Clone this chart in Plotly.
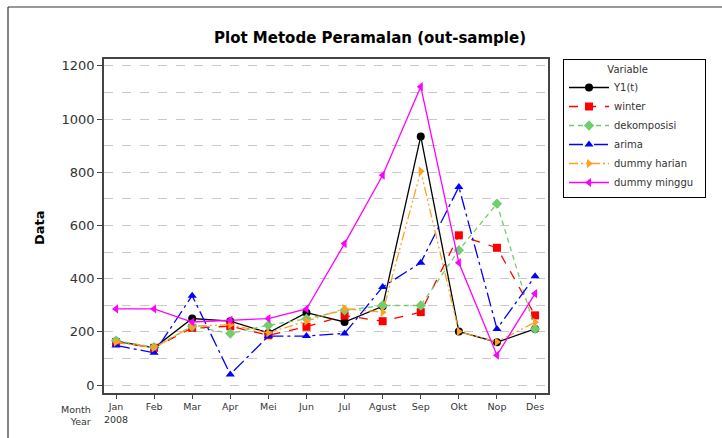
import plotly.graph_objects as go

months = ["Jan<br>2008", "Feb", "Mar", "Apr", "Mei", "Jun", "Jul", "Agust", "Sep", "Okt", "Nop", "Des"]
y1 = [165, 140, 250, 240, 196, 272, 237, 296, 935, 201, 161, 211]
winter = [161, 140, 215, 221, 187, 219, 261, 240, 274, 563, 516, 262]
dekomposisi = [167, 142, 221, 194, 225, 249, 281, 299, 299, 507, 682, 211]
arima = [149, 121, 336, 40, 184, 184, 194, 369, 460, 745, 211, 409]
dummy_harian = [161, 140, 221, 227, 196, 240, 287, 274, 804, 201, 162, 236]
dummy_minggu = [286, 286, 237, 244, 250, 286, 532, 789, 1122, 460, 112, 344]

series = [
    ("Y1(t)", y1, "black", "solid", "circle"),
    ("winter", winter, "#ff0000", "dash", "square"),
    ("dekomposisi", dekomposisi, "#6fcf6f", "5px,4px", "diamond"),
    ("arima", arima, "#0000ff", "14px,4px,3px,4px", "triangle-up"),
    ("dummy harian", dummy_harian, "#ffa020", "9px,3px,2px,3px,2px,3px", "triangle-right"),
    ("dummy minggu", dummy_minggu, "#ff00ff", "solid", "triangle-left"),
]

x = list(range(len(months)))
fig = go.Figure()
for name, vals, color, dash, sym in series:
    fig.add_trace(go.Scatter(
        x=x, y=vals, name=name + "&nbsp;&nbsp;", mode="lines+markers",
        line=dict(color=color, width=1.3, dash=dash),
        marker=dict(symbol=sym, size=8, color=color),
    ))

W, H = 722, 438
L, R, T, B = 104, 174, 59, 45
pw, ph = W - L - R, H - T - B

def px(xp):
    return (xp - L) / pw

def py(yp):
    return (H - B - yp) / ph

fig.update_layout(
    width=W, height=H,
    margin=dict(l=L, r=R, t=T, b=B),
    paper_bgcolor="white", plot_bgcolor="white",
    font=dict(family="DejaVu Sans", color="#222"),
    title=dict(text="<b>Plot Metode Peramalan (out-sample)</b>", xref="container", x=370 / W,
               xanchor="center", yref="container", y=1 - 38 / H, yanchor="middle",
               font=dict(size=15, color="black")),
    showlegend=True,
    legend=dict(
        title=dict(text="&nbsp;" * 13 + "Variable", font=dict(size=10)),
        x=px(563), xanchor="left", y=1, yanchor="top",
        bordercolor="black", borderwidth=1, bgcolor="white",
        font=dict(size=10, color="#333"), tracegroupgap=0, itemwidth=40,
    ),
    xaxis=dict(
        range=[-0.315, 11.34], tickvals=x, ticktext=months,
        showgrid=False, zeroline=False, showline=True, linecolor="#444", linewidth=1.5,
        mirror=True, ticks="outside", ticklen=4, tickcolor="#444",
        tickfont=dict(size=9.5, color="#333"),
    ),
    yaxis=dict(
        range=[-30, 1226], tickvals=[0, 200, 400, 600, 800, 1000, 1200],
        showgrid=True, gridcolor="#c8c8c8", griddash="dash", gridwidth=1,
        minor=dict(tickvals=[100, 300, 500, 700, 900, 1100], showgrid=True,
                   gridcolor="#c8c8c8", griddash="dash", gridwidth=1, ticks=""),
        zeroline=False, showline=True, linecolor="#444", linewidth=1.5, mirror=True,
        ticks="outside", ticklen=5, tickcolor="#444",
        tickfont=dict(size=13, color="#333"),
    ),
    annotations=[
        dict(text="<b>Data</b>", x=px(40), y=py(228), xref="paper", yref="paper",
             textangle=-90, showarrow=False, font=dict(size=13, color="black"),
             xanchor="center", yanchor="middle"),
        dict(text="Month<br>Year", x=px(93), y=py(402), xref="paper", yref="paper",
             showarrow=False, align="right", xanchor="right", yanchor="top",
             font=dict(size=9.5, color="#333")),
    ],
    shapes=[
        dict(type="line", xref="paper", yref="paper", x0=px(8), x1=px(8), y0=py(440), y1=py(7),
             line=dict(color="#333", width=1.2)),
        dict(type="line", xref="paper", yref="paper", x0=px(8), x1=px(724), y0=py(7), y1=py(7),
             line=dict(color="#333", width=1.2)),
    ],
)

fig.write_html("out.html", config={"displayModeBar": False},
               post_script="document.body.style.margin='0';document.body.style.overflow='hidden';")
